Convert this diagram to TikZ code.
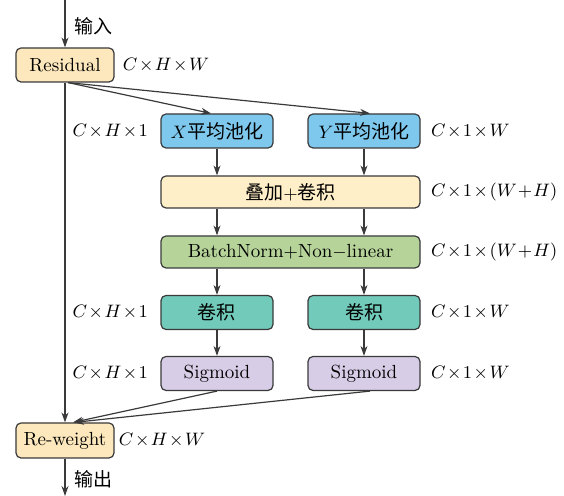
\documentclass[tikz,border=0pt]{standalone}
\usepackage{fontspec}
\newfontfamily\cjk{Noto Sans CJK SC}
\usetikzlibrary{positioning,arrows.meta,calc}

\definecolor{resfill}{HTML}{FCE8BC}
\definecolor{poolfill}{HTML}{7EC8EE}
\definecolor{sumfill}{HTML}{FFEFC8}
\definecolor{bnfill}{HTML}{B6D49A}
\definecolor{convfill}{HTML}{72CABA}
\definecolor{sigfill}{HTML}{D8CDE6}
\definecolor{edgegray}{HTML}{3A3A3A}

\newcommand{\dimtimes}{\mkern1.5mu{\times}\mkern1.5mu}
\newcommand{\dimplus}{\mkern1mu{+}\mkern1mu}

\begin{document}
\begin{tikzpicture}[x=0.5pt, y=-0.5pt,
    every node/.style={font=\fontsize{9.5}{11}\selectfont},
    block/.style={draw=edgegray, line width=0.6pt, rounded corners=2.5pt, inner sep=1pt},
    smallbox/.style={block, minimum width=56pt, minimum height=17pt},
    widebox/.style={block, minimum width=129.5pt, minimum height=16pt},
    endbox/.style={block, minimum width=49pt, minimum height=17pt},
    dimlabel/.style={inner sep=1pt},
    flow/.style={-{Stealth[length=5pt, width=3.5pt]}, draw=edgegray, line width=0.6pt}]
    \useasboundingbox (0,0) rectangle (564,496);

    \node[endbox, fill=resfill] (residual) at (65,65) {Residual};
    \node[dimlabel, right=3pt of residual] (residual_dim) {$C\dimtimes H\dimtimes W$};

    \node[smallbox, fill=poolfill] (xpool) at (217,131) {$X${\cjk 平均池化}};
    \node[smallbox, fill=poolfill] (ypool) at (364,131) {$Y${\cjk 平均池化}};
    \node[dimlabel, left=5pt of xpool] (xpool_dim) {$C\dimtimes H\dimtimes 1$};
    \node[dimlabel, right=4pt of ypool] (ypool_dim) {$C\dimtimes 1\dimtimes W$};

    \node[widebox, fill=sumfill] (concat) at (290.5,192) {{\cjk 叠加}$+${\cjk 卷积}};
    \node[dimlabel, right=4pt of concat] (concat_dim) {$C\dimtimes 1\dimtimes (W\dimplus H)$};

    \node[widebox, fill=bnfill] (bn) at (290.5,252) {BatchNorm$+$Non$-$linear};
    \node[dimlabel, right=4pt of bn] (bn_dim) {$C\dimtimes 1\dimtimes (W\dimplus H)$};

    \node[smallbox, fill=convfill] (conv_h) at (217,312.5) {\cjk 卷积};
    \node[smallbox, fill=convfill] (conv_w) at (364,312.5) {\cjk 卷积};
    \node[dimlabel, left=5pt of conv_h] (conv_h_dim) {$C\dimtimes H\dimtimes 1$};
    \node[dimlabel, right=4pt of conv_w] (conv_w_dim) {$C\dimtimes 1\dimtimes W$};

    \node[smallbox, fill=sigfill] (sig_h) at (217,373.5) {Sigmoid};
    \node[smallbox, fill=sigfill] (sig_w) at (364,373.5) {Sigmoid};
    \node[dimlabel, left=5pt of sig_h] (sig_h_dim) {$C\dimtimes H\dimtimes 1$};
    \node[dimlabel, right=4pt of sig_w] (sig_w_dim) {$C\dimtimes 1\dimtimes W$};

    \node[endbox, minimum height=17.5pt, fill=resfill] (reweight) at (65,440.5) {Re-weight};
    \node[dimlabel, right=1pt of reweight] (reweight_dim) {$C\dimtimes H\dimtimes W$};

    \coordinate (input) at (65,0);
    \coordinate (output) at (65,496);

    \draw[flow] (input) -- node[right=1pt, pos=0.55] (input_label) {\cjk 输入} (residual.north);
    \draw[flow] (reweight.south) -- node[right=1pt, pos=0.55] (output_label) {\cjk 输出} (output);

    \draw[flow] (residual.-80) -- ($(xpool.north)+(-6,0)$);
    \draw[flow] (residual.-80) -- ($(ypool.north)+(6,0)$);
    \draw[flow] (residual.south) -- (reweight.north);

    \draw[flow] (xpool.south) -- (xpool.south |- concat.north);
    \draw[flow] (ypool.south) -- (ypool.south |- concat.north);
    \draw[flow] (xpool.south |- concat.south) -- (xpool.south |- bn.north);
    \draw[flow] (ypool.south |- concat.south) -- (ypool.south |- bn.north);
    \draw[flow] (conv_h.north |- bn.south) -- (conv_h.north);
    \draw[flow] (conv_w.north |- bn.south) -- (conv_w.north);
    \draw[flow] (conv_h.south) -- (sig_h.north);
    \draw[flow] (conv_w.south) -- (sig_w.north);

    \draw[flow] (sig_h.south) -- ($(reweight.north)+(8,0)$);
    \draw[flow] ($(sig_w.south)+(6,0)$) -- ($(reweight.north)+(9,0)$);
\end{tikzpicture}
\end{document}
